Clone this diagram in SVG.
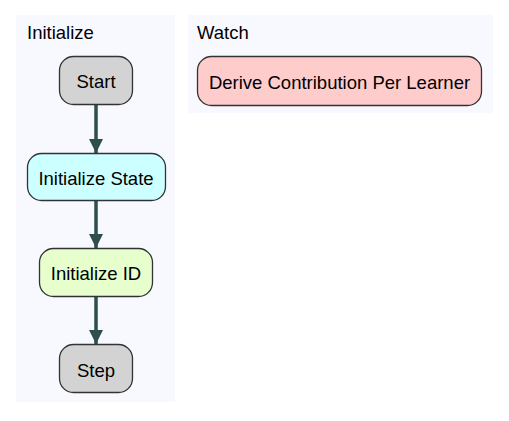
<svg xmlns="http://www.w3.org/2000/svg" width="509" height="421" viewBox="0 0 509 421">
<defs>
<style>
.cl{fill:#f8f8ff;stroke:none}
.ct{font-family:"Liberation Sans",Arial,sans-serif;font-size:18.5px;fill:#000}
.n{stroke:#333;stroke-width:1.3}
.t{font-family:"Liberation Sans",Arial,sans-serif;font-size:18.5px;fill:#000;text-anchor:middle;dominant-baseline:central}
.e{stroke:#2f4f4f;stroke-width:3.5;fill:none}
</style>
<marker id="ah" markerWidth="4" markerHeight="4" refX="4" refY="2" orient="auto" markerUnits="strokeWidth">
<path d="M0,0 L4,2 L0,4 z" fill="#2f4f4f"/>
</marker>
</defs>
<rect width="509" height="421" fill="#fff"/>
<g id="cluster-initialize">
<rect class="cl" x="16" y="15" width="159" height="387"/>
<text class="ct" x="27" y="39">Initialize</text>
</g>
<g id="cluster-watch">
<rect class="cl" x="188" y="15" width="305" height="98"/>
<text class="ct" x="197" y="39">Watch</text>
</g>
<g id="edges">
<path class="e" d="M96,105 L96,153" marker-end="url(#ah)"/>
<path class="e" d="M96,201 L96,248" marker-end="url(#ah)"/>
<path class="e" d="M96,297 L96,344" marker-end="url(#ah)"/>
</g>
<g id="start">
<rect class="n" x="59.5" y="56.5" width="73" height="48" rx="14" fill="#d3d3d3"/>
<text class="t" x="96" y="81">Start</text>
</g>
<g id="init-state">
<rect class="n" x="27.5" y="153.5" width="138" height="47" rx="14" fill="#ccffff"/>
<text class="t" x="96" y="178">Initialize State</text>
</g>
<g id="init-id">
<rect class="n" x="39.5" y="248.5" width="113" height="48" rx="14" fill="#e6ffcc"/>
<text class="t" x="96" y="273">Initialize ID</text>
</g>
<g id="step">
<rect class="n" x="59.5" y="344.5" width="73" height="48" rx="14" fill="#d3d3d3"/>
<text class="t" x="96" y="370">Step</text>
</g>
<g id="derive">
<rect class="n" x="197.5" y="56.5" width="284" height="49" rx="14" fill="#ffcccc"/>
<text class="t" x="339.5" y="82">Derive Contribution Per Learner</text>
</g>
</svg>
